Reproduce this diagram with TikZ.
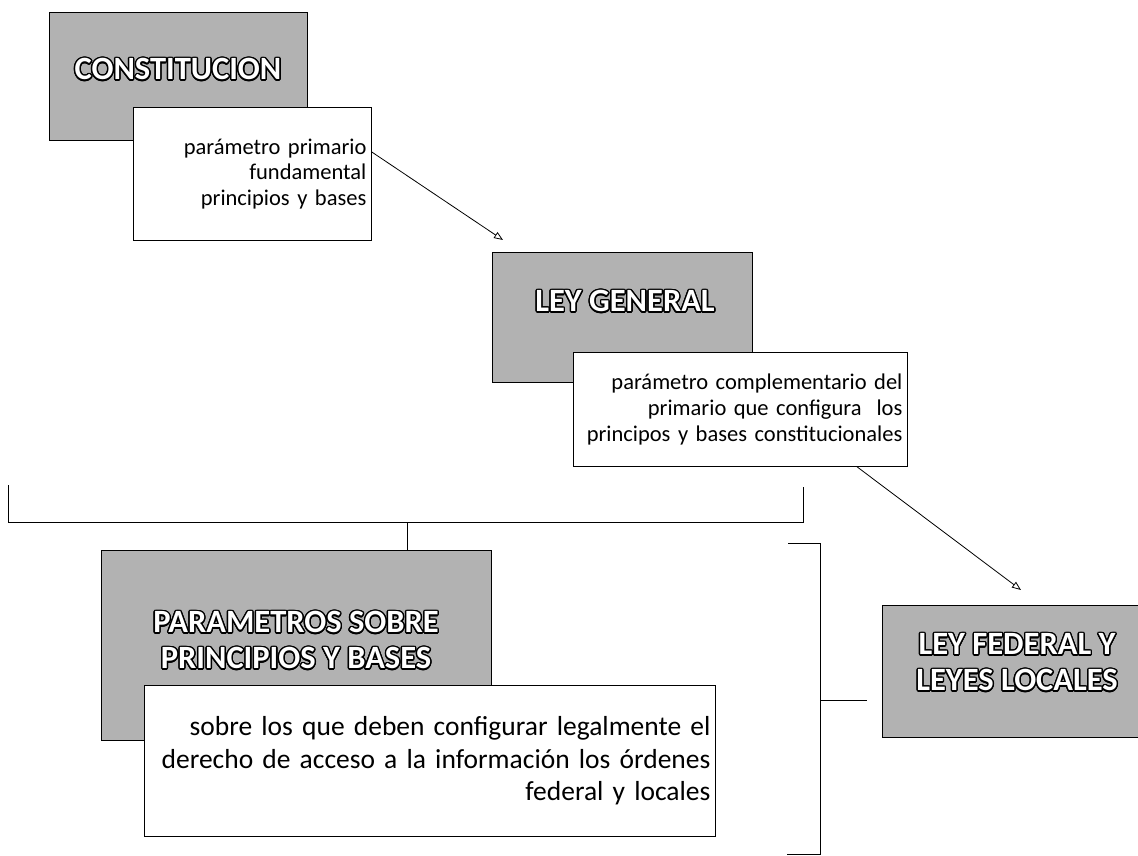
\documentclass[tikz,border=0pt]{standalone}
\usepackage{fontspec}
\setmainfont{Carlito}
\usepackage{contour}
\contourlength{1.4pt}
\usetikzlibrary{arrows.meta,positioning}

\begin{document}
\begin{tikzpicture}[x=1pt,y=-1pt,
  graybox/.style={draw=black,line width=0.8pt,fill=black!30,inner sep=0pt,anchor=north west},
  whitebox/.style={draw=black,line width=0.8pt,fill=white,inner sep=5pt,anchor=north west,align=right},
  heading/.style={font=\bfseries\fontsize{32.5}{36}\selectfont,align=center},
  link/.style={line width=0.8pt,-{Triangle[open,length=9pt,width=7pt]}},
  brace/.style={line width=1pt}]
\useasboundingbox (0,0) rectangle (1138,856);

% Constitucion
\node[graybox,minimum width=258pt,minimum height=128pt] (con) at (49,12) {};
\node[heading] (conT) at (178,70) {\contour{black}{\color{white}CONSTITUCION}};
\node[whitebox,text width=228pt,minimum height=133pt,font=\fontsize{22.5}{25.5}\selectfont] (conW) at (133,107)
  {parámetro primario\\fundamental\\principios y bases};

% Ley general
\node[graybox,minimum width=260pt,minimum height=130pt] (gen) at (492,252) {};
\node[heading] (genT) at (625,302) {\contour{black}{\color{white}LEY GENERAL}};
\node[whitebox,text width=324pt,minimum height=114pt,font=\fontsize{22.5}{26}\selectfont] (genW) at (573,352)
  {parámetro complementario del\\primario que configura\ \ los\\principos y bases constitucionales};

% Parametros
\node[graybox,minimum width=390pt,minimum height=190pt] (par) at (101,550) {};
\node[heading] (parT) at (296,641) {\contour{black}{\color{white}PARAMETROS SOBRE}\\\contour{black}{\color{white}PRINCIPIOS Y BASES}};
\node[whitebox,text width=561pt,minimum height=151pt,font=\fontsize{27.5}{32.5}\selectfont] (parW) at (144,685)
  {sobre los que deben configurar legalmente el\\derecho de acceso a la información los órdenes\\federal y locales};

% Ley federal
\node[graybox,minimum width=270pt,minimum height=132pt] (fed) at (882,605) {};
\node[heading] (fedT) at (1017,663) {\contour{black}{\color{white}LEY FEDERAL Y}\\\contour{black}{\color{white}LEYES LOCALES}};

% Arrows
\draw[link] ([yshift=-45pt]conW.north east) -- ([shift={(11pt,12pt)}]gen.north west);
\draw[link] ([xshift=284pt]genW.south west) -- ([shift={(139pt,15pt)}]fed.north west);

% Brackets
\coordinate (b1) at (407,522);
\draw[brace] (8,485) -- (8,522) -- (803,522) -- (803,487);
\draw[brace] (b1) -- (b1 |- par.north);
\coordinate (b2) at (820,700);
\draw[brace] (788,543) -- (820,543) -- (820,854) -- (787,854);
\draw[brace] (b2) -- ++(47,0);
\end{tikzpicture}
\end{document}
